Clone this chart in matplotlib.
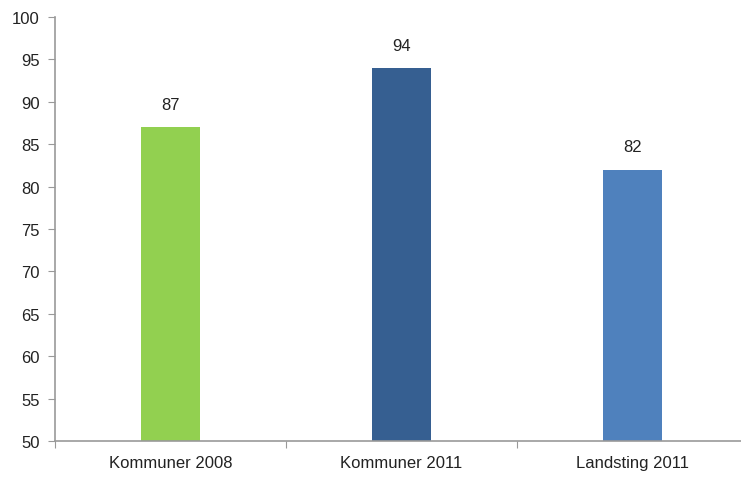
import matplotlib
matplotlib.use('Agg')
import matplotlib.pyplot as plt
from matplotlib import font_manager

categories = ['Kommuner 2008', 'Kommuner 2011', 'Landsting 2011']
values = [87, 94, 82]
colors = ['#92D050', '#365F91', '#4F81BD']
yticks = [50, 55, 60, 65, 70, 75, 80, 85, 90, 95, 100]

names = {f.name for f in font_manager.fontManager.ttflist}
family = ['Liberation Sans Narrow'] if 'Liberation Sans Narrow' in names else ['Liberation Sans']
plt.rcParams['font.family'] = family + ['DejaVu Sans']

fig = plt.figure(figsize=(7.41, 4.81), dpi=100)
ax = fig.add_axes([55 / 741, 39 / 481, 693 / 741, 424 / 481])

x = list(range(len(categories)))
bars = ax.bar(x, values, width=0.255, color=colors, zorder=2)
for xi, v in zip(x, values):
  ax.annotate(f'{v}', (xi, v), xytext=(0, 11), textcoords='offset points',
              ha='center', va='bottom', fontsize=12, color='#222222')

ax.set_ylim(50, 100)
ax.set_xlim(-0.5, 2.5)
ax.set_yticks(yticks)
ax.set_yticklabels([str(t) for t in yticks], fontsize=12, color='#222222')
ax.set_xticks([-0.5, 0.5, 1.5, 2.5])
ax.set_xticklabels([])
ax.set_xticks(x, minor=True)
ax.set_xticklabels(categories, minor=True, fontsize=12, color='#222222')
ax.tick_params(axis='x', which='minor', length=0, pad=10)
ax.tick_params(axis='x', which='major', length=5, color='#999999', direction='out')
ax.tick_params(axis='y', length=5, color='#999999', direction='out', pad=6)

for s in ['top', 'right']:
  ax.spines[s].set_visible(False)
for s in ['left', 'bottom']:
  ax.spines[s].set_color('#999999')
  ax.spines[s].set_linewidth(1.2)

fig.savefig('out.png', dpi=100)
